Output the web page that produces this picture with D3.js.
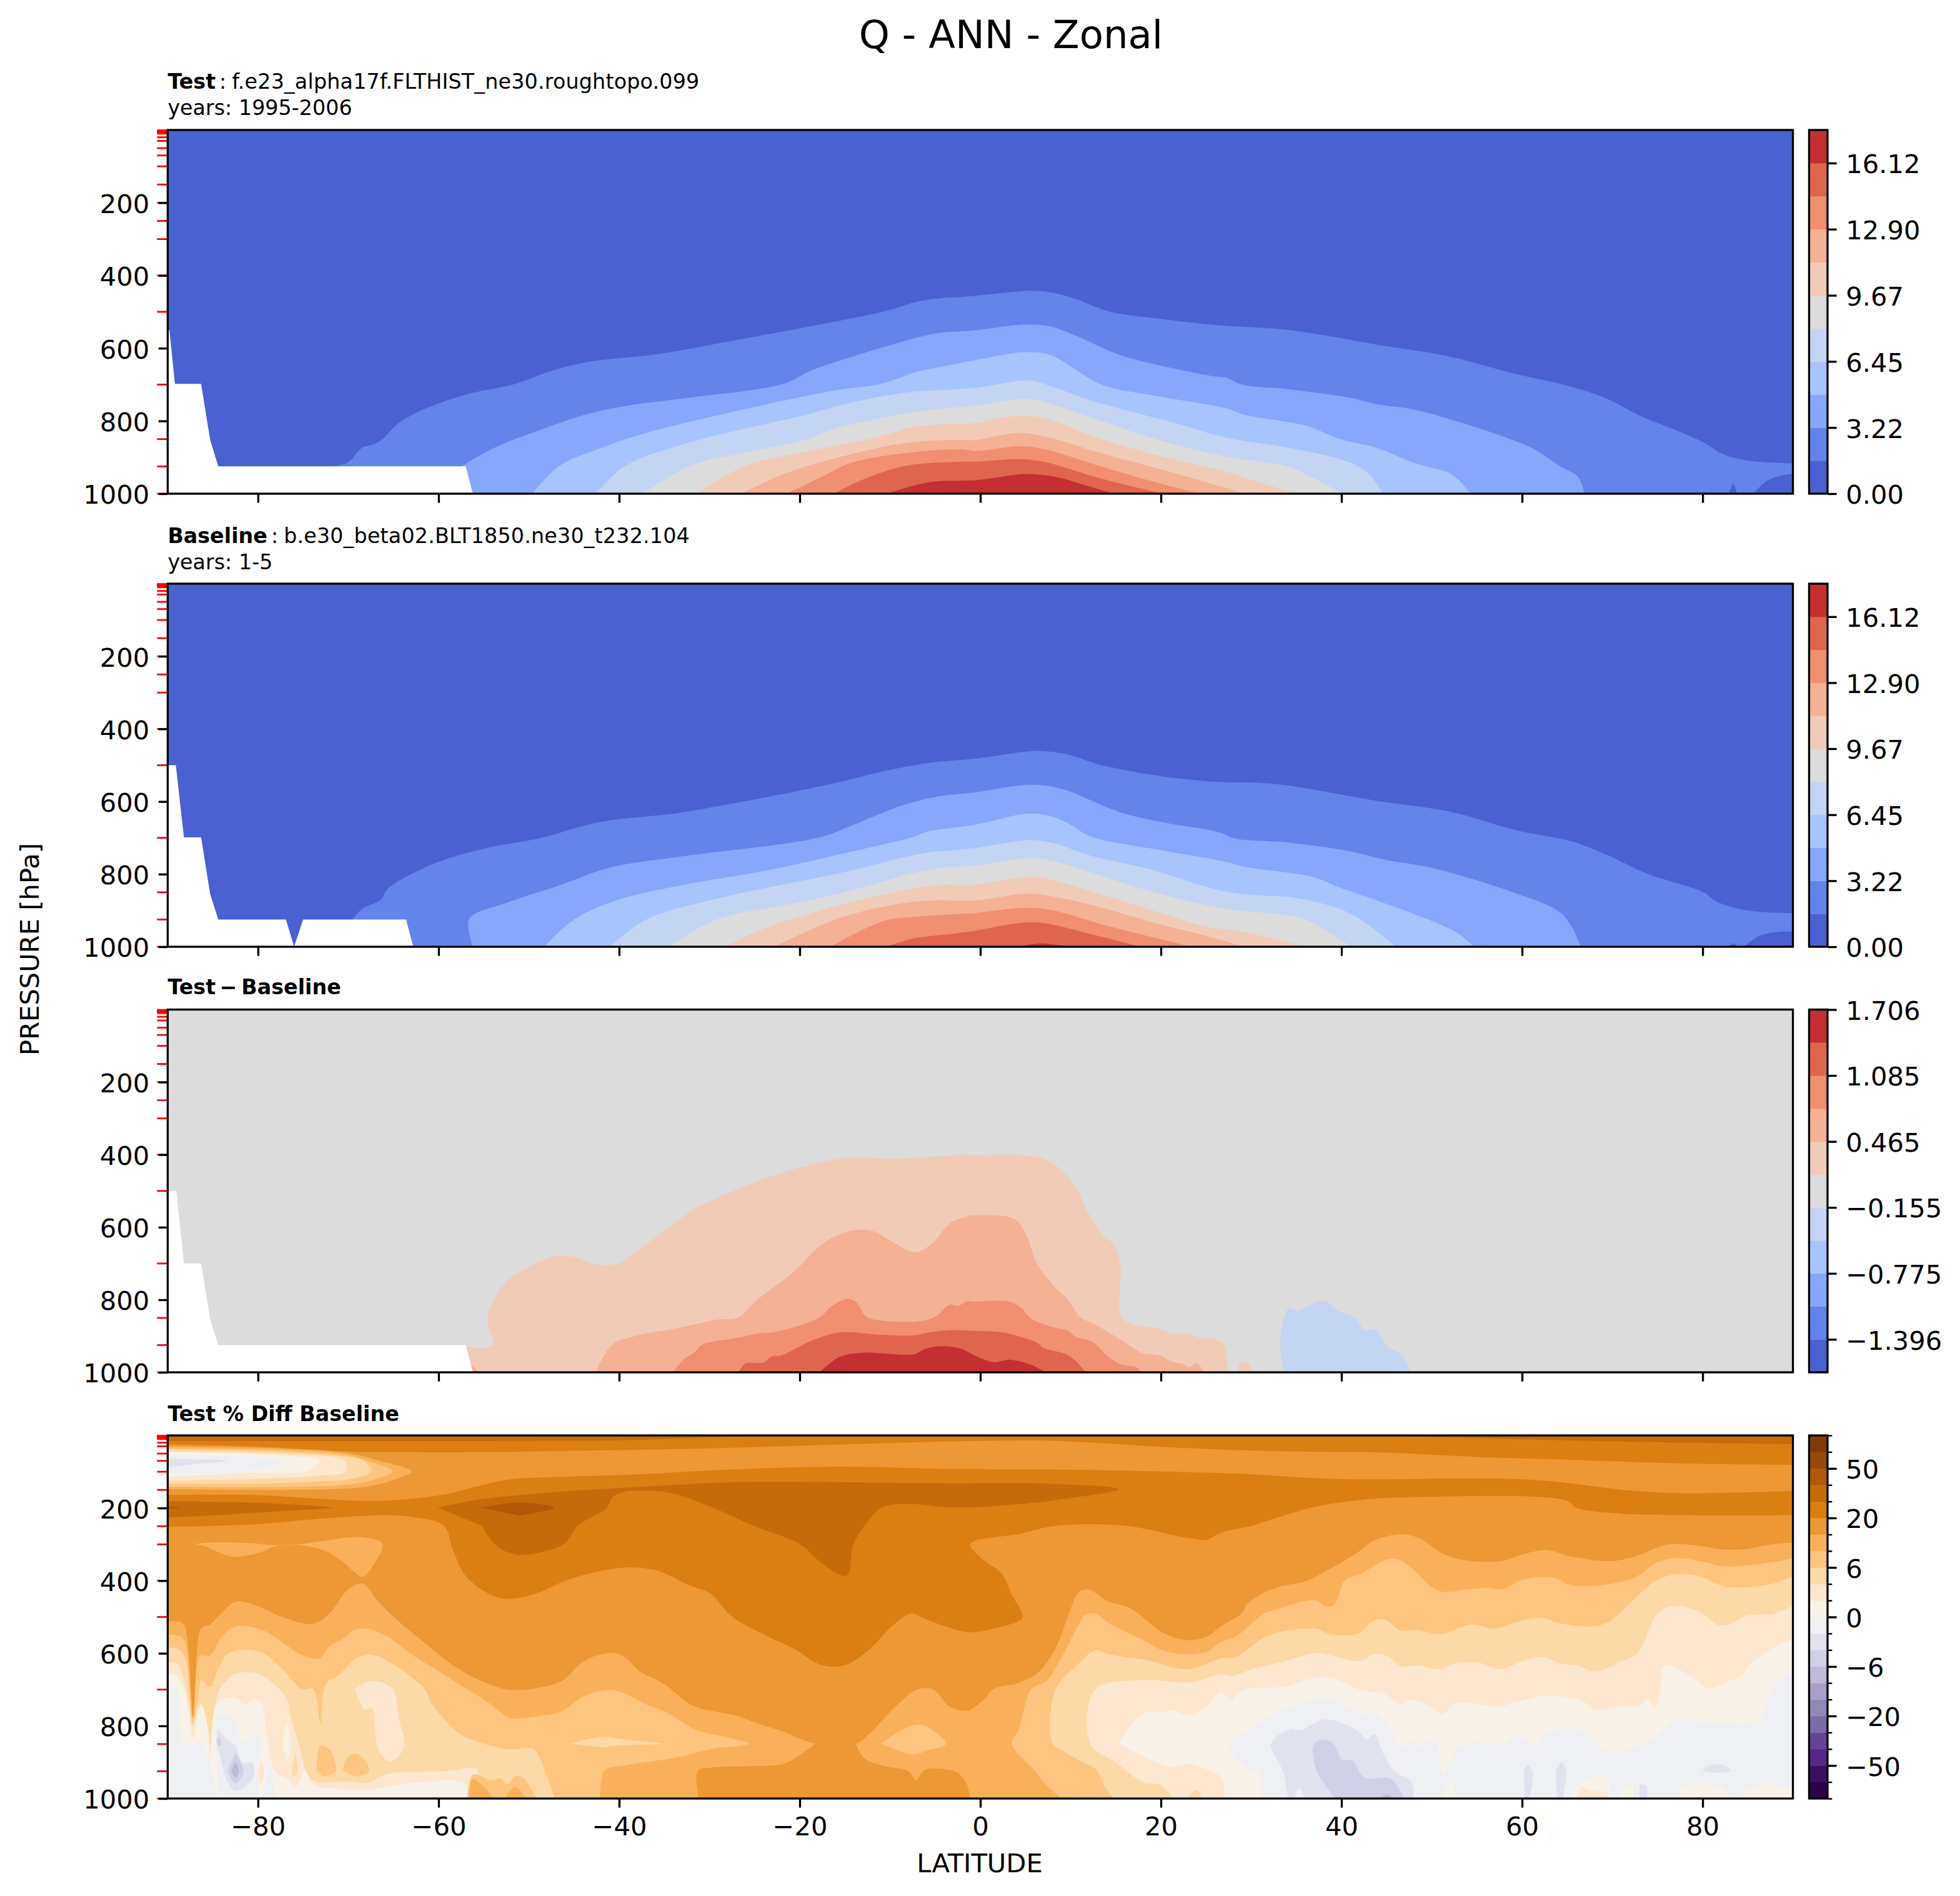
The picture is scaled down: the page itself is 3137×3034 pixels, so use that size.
<!DOCTYPE html>
<html>
<head>
<meta charset="utf-8">
<script src="https://d3js.org/d3.v7.min.js"></script>
<style>
body { margin: 0; background: #fff; }
text { font-family: "DejaVu Sans", sans-serif; fill: #000; }
</style>
</head>
<body>
<div id="chart"></div>
<script>
// Pressure levels of the data (red ticks) and axis ticks
var plevs = [1, 2, 3, 5, 7, 10, 20, 30, 50, 70, 100, 150, 200, 250, 300, 400, 500, 700, 850, 925, 1000];
var latTicks = [-80, -60, -40, -20, 0, 20, 40, 60, 80];
var presTicks = [200, 400, 600, 800, 1000];

// Colour bar levels
var qLevels = [0, 1.61, 3.22, 4.84, 6.45, 8.06, 9.67, 11.28, 12.90, 14.51, 16.12, 17.73];
var qTicks = [0, 3.22, 6.45, 9.67, 12.90, 16.12];
var diffLevels = [-1.706, -1.396, -1.086, -0.775, -0.465, -0.155, 0.155, 0.465, 0.775, 1.085, 1.396, 1.706];
var diffTicks = [-1.396, -0.775, -0.155, 0.465, 1.085, 1.706];
var pctLevels = [-70, -60, -50, -40, -30, -20, -15, -10, -6, -4, -2, 0, 2, 4, 6, 10, 15, 20, 30, 40, 50, 60, 70];
var pctTicks = [-50, -20, -6, 0, 6, 20, 50];

var coolwarm = ["#4961d1", "#6384eb", "#86a7fc", "#a6c4fe", "#c4d5f3", "#dddcdc", "#f2cbb7", "#f5b194", "#f18f71", "#e0654f", "#c43032"];
var puor = ["#2d004b", "#3d0f60", "#542788", "#654497", "#7b6ba7", "#9088b8", "#a99fca", "#bfbada", "#d0d0e6", "#e1e2ee", "#eff0f3",
  "#f9f2e9", "#fde7cf", "#fed9a8", "#fdc57f", "#f9b159", "#ec9835", "#dc7e11", "#c76a0a", "#b35806", "#974a07", "#7f3b08"];

// Test panel: contour lines as [lat, pressure], lowest level first
var testContours = [
  [[-72,925],[-70.1,915],[-68.5,874],[-67.2,864],[-66.3,852],[-64.5,807],[-62.6,779],[-60.1,753],[-56.4,724],[-51.5,698],[-47.8,665],[-43.5,638],[-35.4,615],[-28,582],[-20.6,548],[-10.7,499],[-6.4,469],[-0.6,456],[5.6,442],[7.7,446],[10.5,464],[14.3,499],[20.2,520],[26.5,537],[34.1,550],[43.9,590],[51.6,621],[59.2,670],[65.5,706],[69.6,741],[73.1,786],[78,835],[80.4,863],[82.2,891],[85,909],[90,917]],
  [[-57.5,925],[-54,876],[-49,827],[-43.5,781],[-39.1,758],[-32.9,738],[-21.8,698],[-18.7,661],[-14.4,625],[-9.5,588],[-5.1,560],[-0.6,551],[4.9,535],[7.7,540],[10.5,565],[15.4,618],[20.2,649],[25.8,677],[27.2,681],[29,700],[34.2,713],[41.1,737],[43.9,754],[48.1,769],[52.2,797],[57.8,842],[61.3,877],[64.1,923],[66.2,954],[66.9,1000]],
  [[-49.6,1000],[-46.7,925],[-42.2,876],[-37.3,835],[-27.4,775],[-20.6,738],[-15.6,714],[-11,698],[-7,665],[-3.9,649],[-0.6,633],[4.9,611],[7.7,618],[9.8,646],[13.3,699],[20.2,734],[27.2,765],[29.3,783],[36.2,814],[39.7,849],[43.9,874],[48.1,916],[52.2,947],[54.3,1000]],
  [[-42.6,1000],[-39.4,925],[-32.3,860],[-19.3,783],[-14.4,750],[-8.2,722],[-0.6,709],[2.2,698],[5.3,688],[8.4,709],[11.9,741],[22.3,811],[27.2,846],[34.9,877],[41.1,916],[43.2,951],[44.6,1000]],
  [[-37.3,1000],[-32.3,925],[-26.2,888],[-19.3,852],[-16.3,823],[-8.2,779],[-2,761],[-0.6,758],[5.3,739],[8.4,758],[13.3,800],[20.2,856],[27.2,898],[34.1,926],[36.9,958],[40.1,1000]],
  [[-31.4,1000],[-26.2,925],[-19.3,884],[-12,848],[-7,815],[-2,807],[-0.6,806],[2.9,789],[5.3,786],[7.7,797],[13.3,849],[20.2,898],[27.2,940],[34.9,1000]],
  [[-26.5,1000],[-22.5,953],[-19.3,925],[-14.4,892],[-8.2,860],[-2,852],[-0.6,853],[4.2,833],[7,842],[13.3,888],[21.6,944],[29.3,1000]],
  [[-21.5,1000],[-17.5,953],[-14.4,916],[-8.2,888],[-2,878],[-0.6,883],[4.2,870],[7,877],[14,930],[18.9,965],[24.4,1000]],
  [[-16.3,1000],[-12.6,957],[-8.2,923],[-2,912],[-0.6,912],[4.2,905],[7,912],[13.3,958],[20.2,1000]],
  [[-10.4,1000],[-5.8,969],[-2,964],[-0.6,963],[2.2,954],[4.9,946],[8.4,954],[11.9,979],[14.8,1000]]
];
var testPatches = [
  [[85.6,1000],[87.4,961],[90,945],[90,1000]],
  [[82.9,1000],[83.4,973],[83.8,1000]]
];
var testMissing = [[-90,547],[-89.8,552],[-89.2,698],[-86.3,698],[-85.3,852],[-84.4,925],[-57,925],[-56.2,1000],[-90,1000]];

// Baseline panel
var baseContours = [
  [[-69.5,925],[-68.5,896],[-66.4,870],[-65.7,842],[-63.8,810],[-60.1,767],[-55.2,731],[-48.4,699],[-44.1,668],[-41,652],[-33.6,632],[-28,608],[-17.5,557],[-10,513],[-5.8,494],[-0.6,482],[6.3,461],[9.8,471],[13.3,499],[20.2,531],[25.8,545],[32.8,552],[43.9,598],[52.2,629],[59.2,678],[65.5,710],[69.6,749],[73.8,798],[80.1,850],[81.5,875],[85,900],[90,907]],
  [[-56.2,1000],[-56.6,923],[-52.7,881],[-46.5,830],[-41,782],[-33,751],[-17.8,699],[-14.4,668],[-8.8,612],[-5.1,588],[-0.6,575],[5.6,554],[9.1,566],[15.4,629],[20.2,657],[26.5,685],[28.2,702],[34.2,713],[41.1,738],[44.6,759],[50.2,784],[57.8,840],[64.1,903],[65.5,945],[66.5,1000]],
  [[-48.3,1000],[-45,925],[-40.4,873],[-33,830],[-23.7,790],[-14.4,739],[-7.6,699],[-5.8,683],[-0.6,664],[5.3,633],[7.7,640],[9.8,661],[12.2,696],[20.2,735],[27.2,766],[29.3,780],[36.9,808],[39.7,836],[43.9,872],[49.5,924],[52.9,963],[54.7,1000]],
  [[-41,1000],[-37,925],[-28.9,866],[-15,794],[-6.4,743],[-0.6,728],[5.6,706],[8.4,717],[12.2,749],[18.8,787],[27.5,850],[35.5,868],[41.1,910],[46,1000]],
  [[-34.5,1000],[-29.2,925],[-20.6,881],[-14.4,846],[-8.2,802],[-3.9,782],[-0.6,777],[5.6,756],[8.4,766],[12.6,798],[18.8,847],[27.2,896],[35.5,921],[38.3,956],[41.1,1000]],
  [[-28.3,1000],[-24.3,953],[-16.3,890],[-9.5,850],[-5.1,830],[-0.6,829],[5.6,807],[8.4,819],[12.6,850],[19.5,903],[25.1,945],[28.6,956],[36,1000]],
  [[-22.8,1000],[-15.6,921],[-8.8,881],[-5.1,872],[-0.6,872],[4.9,854],[7,857],[11.9,882],[18.8,931],[24.4,966],[29.3,1000]],
  [[-16.6,1000],[-10.7,929],[-7,917],[-2,909],[-0.6,907],[4.9,893],[7.7,898],[14,942],[18.9,973],[23.4,1000]],
  [[-10.4,1000],[-7.6,978],[-3.4,965],[-0.6,956],[4.2,935],[7,935],[11.9,963],[17.8,1000]],
  [[4.2,1000],[6.7,991],[9.8,1000]]
];
var basePatches = [
  [[84.6,1000],[86.3,970],[88.4,959],[90,959],[90,1000]],
  [[82.9,1000],[83.4,990],[83.8,1000]]
];
var baseMissing = [[-90,500],[-89.1,500],[-88.2,699],[-86.3,699],[-85.3,854],[-84.4,925],[-76.9,925],[-76,1000],[-75,925],[-63.6,925],[-62.8,1000],[-90,1000]];

// Test - Baseline panel: [colour band, contour]
var diffLayers = [
  [6, [[-57,929],[-54,924],[-54.6,849],[-52.7,756],[-51.5,730],[-47.2,679],[-45.3,681],[-42.2,704],[-40,698],[-37.3,651],[-31.7,551],[-26.8,494],[-22.4,453],[-15,409],[-9.5,411],[-2.1,401],[-0.6,402],[3.5,401],[6.3,406],[8.4,430],[10.5,487],[11.9,557],[13.6,624],[14.7,645],[15.5,697],[15.7,849],[17.8,873],[19.5,877],[21.3,894],[23,891],[24.1,903],[26.9,919],[27.3,1000]]],
  [6, [[28.6,1000],[28.7,974],[29.6,974],[30.1,1000]]],
  [7, [[-56.4,980],[-55.4,1000],[-56.2,1000]]],
  [7, [[-42.6,1000],[-40.8,924],[-37.9,898],[-32.9,875],[-29.2,855],[-26.8,849],[-24.9,804],[-20.6,722],[-18.1,659],[-16.3,627],[-14.1,609],[-12,610],[-9.5,644],[-7.2,669],[-5.3,644],[-3.3,588],[-1.1,568],[-0.6,567],[3.2,572],[4.2,585],[5.3,634],[6.3,701],[8.4,768],[9.8,803],[11.1,849],[12.6,866],[15.4,908],[18,947],[19.9,954],[21.3,972],[22.3,975],[23.2,986],[23.9,973],[24.8,1000]]],
  [8, [[-34,1000],[-32.9,965],[-31.7,946],[-30.8,924],[-26.8,905],[-24.9,894],[-22.4,887],[-17.8,849],[-16.6,820],[-14.7,797],[-13.7,808],[-12.6,847],[-9.5,860],[-7,860],[-5.1,849],[-3.4,814],[-2.4,816],[-1.4,804],[-0.6,805],[3.2,805],[4.6,824],[5.6,852],[7.7,873],[9.8,887],[10.5,901],[12.6,919],[14,954],[15.7,979],[17.3,986],[17.8,1000]]],
  [9, [[-26.8,1000],[-26,976],[-24,973],[-23.1,956],[-22.1,954],[-18.7,913],[-15.6,890],[-11.3,896],[-7.3,898],[-5.8,890],[-3.3,884],[-0.6,886],[2.2,889],[3.9,898],[6.3,919],[7,933],[9.8,954],[11.7,1000]]],
  [10, [[-17.8,1000],[-15.6,958],[-13.2,946],[-7.3,950],[-6.1,935],[-4.2,928],[-2.1,935],[-0.6,954],[1.5,972],[3.2,965],[5.6,979],[7.2,1000]]],
  [4, [[33.6,1000],[33.2,922],[33.6,852],[34.2,823],[35.2,831],[36.3,817],[38.1,803],[39.7,831],[41.6,851],[42.6,885],[43.8,882],[45,926],[46.7,954],[47.7,1000]]]
];
var diffMissing = [[-90,500],[-89.05,500],[-88.2,700],[-86.3,700],[-85.3,853],[-84.4,925],[-57,925],[-56.2,1000],[-90,1000]];

// Test % Diff Baseline panel: [colour band, contour], painted in order over band 17
var pctLayers = [
  [18, [[-90,0],[-90,15],[-50,15],[-39,13],[-31,6],[-23,0]]],
  [18, [[44,0],[56,8],[66,14],[78,20],[90,24],[90,0]]],
  // upper edge of the 15-20 % band, closed at the ground
  [16, [[-90,25],[-80.6,30],[-70,44],[-63,46],[-55.9,46],[-39.4,40],[-27.5,34],[-15.6,25],[0.3,15],[8.3,15],[22.9,35],[33.8,44],[44.7,47],[55.6,60],[66.6,68],[77.5,77],[90,81],[90,1000],[-90,1000]]],
  // 20-30 % band around 200 hPa
  [17, [[-90,164],[-80.6,164],[-70,179],[-65.4,179],[-59.4,163],[-55.9,141],[-52.4,122],[-45.3,113],[-39.4,109],[-27.5,94],[-15.6,86],[-3.6,92],[8.3,94],[22.9,101],[28.4,105],[39.3,120],[61.1,122],[72,152],[77.5,159],[90,153],
    [90,220],[70.9,215],[66,199],[64.9,179],[47.5,170],[42,178],[37.1,196],[33.8,219],[30,249],[26.7,267],[25.1,287],[22.9,282],[16.2,249],[8.3,249],[4.3,271],[-1.1,299],[0.3,342],[2.3,379],[3.5,439],[4.7,499],[4.3,510],[1.5,532],[-1.2,542],[-3.6,528],[-6.4,502],[-7.6,490],[-9.6,521],[-12.4,592],[-14.8,631],[-16.5,637],[-18.3,625],[-20.3,592],[-23.5,554],[-27.5,499],[-29.9,435],[-32.2,413],[-35.8,372],[-39.4,364],[-45.3,394],[-49.2,435],[-52.4,450],[-54.5,435],[-57,387],[-58.4,316],[-59.4,249],[-63,224],[-66.5,220],[-73.5,230],[-80.6,245],[-90,252]]],
  [18, [[-90,182],[-84.1,183],[-77.1,189],[-71.8,199],[-77.1,208],[-84.1,219],[-90,226]]],
  [18, [[-60.1,199],[-55.9,178],[-48.8,159],[-39.4,144],[-31.4,133],[-25.1,128],[-3.6,132],[6.7,132],[15.3,148],[8.3,178],[4.3,189],[0.3,197],[-3.6,198],[-7.6,189],[-10.8,197],[-12,223],[-14,297],[-14.7,385],[-15.6,383],[-17.7,349],[-19.9,301],[-25.5,245],[-29.5,200],[-34.2,159],[-37.8,152],[-39.4,155],[-40.7,170],[-41.4,200],[-44.6,249],[-46,297],[-47.8,316],[-51,329],[-53.4,308],[-55.2,249]]],
  [19, [[-55.3,199],[-51,185],[-47.1,199],[-51,221]]],
  [19, [[-90,195],[-88.7,199],[-90,203]]],
  // pale tongue near 70 hPa over the south pole
  [15, [[-90,30],[-77.1,36],[-70,49],[-66.5,70],[-63,99],[-65.4,126],[-68.3,142],[-77.1,150],[-90,148]]],
  [14, [[-90,35],[-77.1,41],[-70,55],[-67.2,75],[-65.1,99],[-67.2,122],[-70,135],[-77.1,142],[-90,141]]],
  [13, [[-90,38],[-77.1,46],[-70.7,57],[-68.3,70],[-67.5,99],[-69.3,118],[-73.5,127],[-80.6,133],[-90,133]]],
  [12, [[-90,44],[-77.1,51],[-71.8,59],[-70.4,70],[-70.3,99],[-73.5,111],[-80.6,120],[-90,124]]],
  [11, [[-90,46],[-77.1,56],[-73.2,70],[-74.4,97],[-80.6,103],[-90,114]]],
  [10, [[-90,56],[-80.6,60],[-77.2,70],[-80.6,97],[-90,103]]],
  [9, [[-90,64],[-85.9,66],[-83.4,70],[-86.3,77],[-90,88]]],
  [15, [[-87,299],[-85.2,295],[-80.6,297],[-78.1,303],[-76,301],[-72.8,291],[-70,281],[-67.9,282],[-66.2,299],[-67.4,364],[-68.4,390],[-69.5,372],[-70.7,346],[-72.8,316],[-75.7,301],[-78.1,306],[-79.9,323],[-82.7,334],[-84.5,320],[-85.9,305]]],
  // 10-15 % and below
  [15, [[-90,513],[-88.9,513],[-88.2,521],[-87.1,782],[-86.3,532],[-85.3,521],[-84.1,491],[-82.4,457],[-79.9,472],[-77.1,502],[-73.9,519],[-72.1,491],[-70,424],[-68.4,408],[-66.8,454],[-65,499],[-62.2,558],[-58,640],[-55.2,677],[-52.4,700],[-49.2,696],[-46.4,677],[-43.9,622],[-41.1,599],[-39.4,610],[-37.8,648],[-35,685],[-31.8,745],[-29.5,760],[-27.1,771],[-24.7,793],[-21.9,815],[-18.3,849],[-13.8,849],[-12,815],[-9.6,752],[-7,700],[-5.2,700],[-3.4,747],[-1.5,758],[0.3,730],[1.5,698],[4.3,681],[6.3,655],[8.3,588],[9.9,484],[10.9,431],[11.9,424],[14.2,457],[16.6,476],[20.2,543],[22.9,564],[25.1,554],[26.7,525],[28.9,491],[29.7,461],[32.7,420],[36,402],[38.2,375],[41.5,327],[43.6,290],[46.4,273],[48.5,282],[51.3,327],[53.5,343],[57.8,346],[60,328],[62.7,316],[65.5,334],[69.8,346],[72.6,333],[75.8,302],[78.6,301],[82.4,314],[85.1,312],[87.3,301],[90,295],[90,1000],[-90,1000]]],
  [16, [[-18.3,849],[-20.3,886],[-21.9,905],[-25.9,911],[-29.9,915],[-31.3,924],[-31.2,1000],[-1.1,1000],[-1.5,961],[-2.4,931],[-4.4,918],[-6.2,922],[-7.1,950],[-8,924],[-10.4,912],[-12.8,890],[-13.8,849]]],
  // 6-10 %
  [14, [[-90,549],[-88.7,552],[-88.1,566],[-87.2,778],[-86.4,607],[-85.4,607],[-84.1,558],[-83.3,536],[-82.2,525],[-79.5,536],[-77.1,573],[-75.3,603],[-73.2,614],[-72.1,581],[-70.7,562],[-69.3,536],[-67.9,532],[-65.4,558],[-63,603],[-60.1,648],[-57,696],[-54.8,730],[-52,778],[-49.2,774],[-46.4,760],[-43.9,718],[-41.1,701],[-39.4,711],[-37,741],[-35,760],[-31.4,812],[-28.3,830],[-25.7,849],[-29.9,864],[-33.4,886],[-39.4,909],[-41.6,922],[-42.1,1000],[-90,1000]]],
  [14, [[9,1000],[7.1,957],[5.9,920],[3.5,849],[4.3,808],[5.6,700],[7.3,677],[8.7,625],[10.9,521],[11.6,495],[12.7,490],[14.2,517],[18.2,566],[20.2,592],[22.9,603],[25.1,595],[26.7,569],[28.3,554],[31.4,491],[32.7,480],[37.1,454],[38.2,470],[39.1,469],[40.4,398],[42,383],[45,342],[46.4,343],[47.7,364],[49.9,416],[51.3,431],[54,424],[56.2,420],[57.8,424],[60,398],[62.2,390],[63.8,394],[65.5,413],[69.8,409],[72.6,390],[75,349],[77.5,338],[80.2,349],[82.4,361],[85.1,357],[87.8,349],[90,338],[90,1000]]],
  [14, [[-11,849],[-8.8,813],[-7,797],[-6,801],[-3.8,849],[-6,868],[-7.2,879],[-8.8,871]]],
  [13, [[-45.5,849],[-41.8,830],[-39.4,838],[-35.2,849],[-39.4,853],[-41.8,859]]],
  // 4-6 %
  [13, [[-90,584],[-88.9,588],[-88.1,610],[-87.2,789],[-86.5,700],[-86.3,674],[-85.3,692],[-84.3,636],[-83.4,603],[-82.4,592],[-79.5,599],[-77.1,648],[-75.1,700],[-73.9,698],[-73.1,793],[-72.7,700],[-72.1,674],[-71.1,661],[-69.3,618],[-67.5,604],[-64.7,636],[-61.5,700],[-60.8,737],[-59.1,789],[-57.3,827],[-52.4,864],[-49.5,864],[-48.7,894],[-47.1,1000],[-90,1000]]],
  [14, [[-73.5,924],[-73.1,856],[-72.1,864],[-71.4,925],[-72.8,940]]],
  [14, [[-70.6,924],[-70.2,890],[-69.3,877],[-68.3,890],[-67.7,925],[-69.1,940]]],
  [13, [[14.8,1000],[13.8,968],[12.8,920],[10.9,894],[9.1,868],[8,849],[8.3,701],[10.7,633],[12.7,592],[14.2,603],[18.2,618],[22.9,644],[26.7,614],[28.3,610],[31.9,551],[37.1,532],[38.7,547],[41.7,547],[43.6,510],[44.7,506],[46.6,537],[48.5,536],[51,547],[54.3,521],[57,532],[60,510],[62.2,502],[64.4,519],[68.2,525],[69.8,510],[72,461],[74.7,402],[76.9,383],[79.6,387],[82.4,416],[87.3,411],[90,388],[90,1000]]],
  [12, [[-69.3,700],[-67.5,676],[-65.1,698],[-64.4,782],[-63.8,845],[-64.4,883],[-65.5,897],[-66.7,864],[-67.4,752],[-68.3,756]]],
  // 2-4 %
  [12, [[-90,623],[-88.9,629],[-88,692],[-87.2,801],[-86.4,741],[-85.3,853],[-84.4,707],[-83.4,674],[-82.5,657],[-79.9,657],[-76.9,722],[-76.4,774],[-75.5,849],[-74.4,938],[-73.5,955],[-70.4,953],[-67.9,957],[-65.8,933],[-59.4,925],[-55.7,920],[-56.9,1000],[-90,1000]]],
  [14, [[-56.8,1000],[-56.2,935],[-54.1,950],[-53.1,944],[-52.4,961],[-51.5,938],[-50.5,946],[-49.2,1000]]],
  [15, [[-56.6,1000],[-56.2,946],[-55,968],[-53.8,1000]]],
  [15, [[-52.7,1000],[-51.5,968],[-50.3,1000]]],
  [12, [[21.4,1000],[21,987],[19.8,961],[18.2,957],[15,901],[12.2,849],[12.7,700],[18.2,674],[22.9,681],[24.5,674],[26.7,657],[27.8,663],[30,644],[33.8,622],[37.1,599],[42,622],[43.6,603],[45,607],[46.6,636],[48.5,633],[50.7,644],[52.4,629],[55.1,625],[57.6,644],[60,622],[62.2,610],[64.4,629],[66,633],[68.2,651],[70.4,629],[72.8,599],[75,491],[76.9,470],[79.7,487],[81.6,521],[82.9,521],[84.8,497],[87.8,491],[90,469],[90,1000]]],
  [13, [[22.9,1000],[24,976],[24.5,1000]]],
  // 0-2 %
  [11, [[-90,661],[-88.9,663],[-87.8,737],[-87.2,833],[-86.3,741],[-85.5,812],[-85.3,886],[-84.5,737],[-82.5,722],[-81.5,741],[-80.4,728],[-79.7,733],[-79,827],[-78.1,927],[-76.7,946],[-75.8,968],[-74.9,924],[-73.9,961],[-71.8,972],[-67.5,976],[-65.4,965],[-57.1,959],[-56.9,1000],[-90,1000]]],
  [11, [[-77.3,849],[-76.8,793],[-76.4,849],[-76.8,901]]],
  [13, [[-75.9,871],[-75.6,927],[-76,940],[-76.3,927]]],
  [12, [[-79.7,894],[-79.3,927],[-79.7,957],[-80,927]]],
  [11, [[15.3,849],[16.6,801],[18.2,763],[20.2,763],[21.4,756],[22.9,771],[25.1,745],[26.7,707],[27.8,730],[28.6,707],[30,696],[33.8,692],[36,674],[38.7,666],[42,700],[44.7,711],[46.6,741],[47.5,730],[49.1,737],[51.3,767],[52.4,741],[54.5,737],[57,748],[60,730],[62.7,717],[66.6,730],[68.2,756],[70.9,745],[72.8,748],[73.9,726],[74.7,748],[75.3,707],[75.8,633],[79.1,670],[80.7,696],[82.9,677],[84.3,663],[85.1,633],[88.4,577],[90,562],[90,1000],[27,1000],[26.7,942],[25.1,920],[22.9,905],[21,912],[18.2,886]]],
  // negative values near the ground
  [10, [[-90,698],[-89,698],[-88.2,849],[-86.3,849],[-84.5,1000],[-90,1000]]],
  [10, [[-84.5,767],[-82.7,778],[-81.7,843],[-80.6,823],[-79.6,842],[-80.1,901],[-79.7,1000],[-84.3,1000],[-84.7,856]]],
  [9, [[-84.5,808],[-83.3,842],[-82.5,853],[-81.7,901],[-80.6,901],[-80.6,946],[-82.5,979],[-83.4,953],[-84.1,894],[-84.6,849]]],
  [8, [[-82.5,874],[-81.6,924],[-82.5,959],[-83.4,924]]],
  [7, [[-82.5,900],[-82.1,924],[-82.5,942],[-83,924]]],
  [8, [[-84.6,838],[-84.2,834],[-84.1,853],[-84.4,855]]],
  [10, [[-79.6,1000],[-78.7,916],[-78,1000]]],
  [10, [[31.1,1000],[30.8,924],[29.7,920],[27.5,849],[30,808],[32.7,763],[35.4,737],[38.2,722],[42.3,767],[43.6,763],[45.5,812],[46.6,860],[47.7,838],[48.5,860],[49.6,838],[50.5,849],[51.3,931],[52.9,860],[55.1,845],[57.8,853],[59.5,827],[61.6,856],[62.7,819],[66.6,812],[69.3,868],[73.1,853],[75.8,808],[76.9,783],[79.7,789],[81.8,789],[84.6,795],[86.5,778],[87.3,730],[87.8,692],[90,651],[90,1000]]],
  [9, [[34.1,1000],[33.5,924],[32.2,849],[34.4,808],[35.4,812],[38.2,782],[41.7,812],[42.8,838],[43.6,823],[44.7,879],[45.8,924],[47.7,953],[48,1000]]],
  [10, [[34.8,1000],[35.3,972],[36,1000]]],
  [8, [[39.3,1000],[37.2,920],[37,849],[38.2,838],[39.1,849],[40.1,894],[41.2,894],[42.5,942],[45.5,946],[46.9,1000]]],
  [7, [[44.4,1000],[45,988],[45.8,1000]]],
  [9, [[60.2,924],[60.6,909],[61.2,927],[60.8,1000],[60.3,1000]]],
  [9, [[63.7,924],[64.4,901],[64.9,927],[64.5,1000],[63.9,1000]]],
  [9, [[79.9,924],[80.7,909],[82.4,909],[83.1,924],[81.6,930]]],
  [9, [[73,961],[73.8,965],[73.8,1000],[73,1000]]],
  [11, [[65.5,1000],[66.3,961],[69.3,938],[69.7,1000]]],
  [11, [[70.9,1000],[71.5,968],[72.3,965],[72.3,1000]]],
  [11, [[77.5,1000],[77.7,968],[79.7,961],[82.4,972],[82.7,1000]]],
  [11, [[84,1000],[85.1,972],[87.3,961],[90,972],[90,1000]]],
  [11, [[51.3,1000],[52.1,946],[52.6,1000]]],
  [12, [[66,1000],[66.6,968],[67.4,979],[69.3,983],[69.6,1000]]]
];

var W = 3137, H = 3034;
var plotLeft = 268.4, plotRight = 2869.6;
var cbLeft = 2895.5, cbRight = 2925;
var tickFont = 41.67, smallFont = 33.33;

var svg = d3.select("#chart").append("svg")
  .attr("width", W).attr("height", H)
  .attr("viewBox", "0 0 " + W + " " + H)
  .style("display", "block")
  .style("background", "#fff");

var x = d3.scaleLinear().domain([-90, 90]).range([plotLeft, plotRight]);

// contour closed along the ground, if it does not close by itself
function atGround(pts) {
  return pts.concat([[pts[pts.length - 1][0], 1000], [pts[0][0], 1000]]);
}

// edges of the plot stay straight, only the contour parts are smoothed
function onFrame(a, b) {
  return (a[1] >= 1000 && b[1] >= 1000) || (a[1] <= 0 && b[1] <= 0) || (Math.abs(a[0]) == 90 && Math.abs(b[0]) == 90);
}

function contourPath(pts, line) {
  var runs = [[pts[0]]];
  for (var i = 1; i < pts.length; i++) {
    if (onFrame(pts[i - 1], pts[i])) runs.push([pts[i]]);
    else runs[runs.length - 1].push(pts[i]);
  }
  return runs.map((r, i) => {
    var s = r.length > 1 ? line(r) : "M" + line.x()(r[0]) + "," + line.y()(r[0]);
    return i ? "L" + s.slice(1) : s;
  }).join("") + "Z";
}

function styleAxis(g, size) {
  g.select(".domain").remove();
  g.selectAll(".tick line").attr("stroke", "#000").attr("stroke-width", 3.3);
  g.selectAll(".tick text").style("font-family", '"DejaVu Sans", sans-serif').style("font-size", size + "px").attr("fill", "#000");
}

function drawPanel(idx, top, bottom, base, colors, layers, missing, showX) {
  var y = d3.scaleLinear().domain([0, 1000]).range([top, bottom]);
  var line = d3.line().x(d => x(d[0])).y(d => y(d[1]));
  var smooth = d3.line().x(d => x(d[0])).y(d => y(d[1])).curve(d3.curveCatmullRom.alpha(0.5));
  var g = svg.append("g");
  var clipId = "clip" + idx;

  g.append("clipPath").attr("id", clipId).append("rect")
    .attr("x", plotLeft).attr("y", top)
    .attr("width", plotRight - plotLeft).attr("height", bottom - top);

  var field = g.append("g").attr("clip-path", "url(#" + clipId + ")");
  field.append("rect")
    .attr("x", plotLeft).attr("y", top)
    .attr("width", plotRight - plotLeft).attr("height", bottom - top)
    .attr("fill", colors[base]);

  field.selectAll("path.band").data(layers).enter().append("path")
    .attr("class", "band")
    .attr("d", d => contourPath(d[1], smooth))
    .attr("fill", d => colors[d[0]]);

  if (missing) {
    field.append("path").attr("d", line(missing) + "Z").attr("fill", "#fff");
  }

  // red ticks: data levels
  g.selectAll("line.plev").data(plevs).enter().append("line")
    .attr("class", "plev")
    .attr("x1", plotLeft - 17).attr("x2", plotLeft)
    .attr("y1", d => y(d)).attr("y2", d => y(d))
    .attr("stroke", "#ff0000").attr("stroke-width", 2.8);

  var yAxis = g.append("g").attr("transform", "translate(" + plotLeft + ",0)")
    .call(d3.axisLeft(y).tickValues(presTicks).tickSize(14.6).tickPadding(14.6).tickFormat(d3.format("d")));
  styleAxis(yAxis, tickFont);
  yAxis.selectAll(".tick text").attr("dy", "0.38em");

  var xAxis = g.append("g").attr("transform", "translate(0," + bottom + ")")
    .call(d3.axisBottom(x).tickValues(latTicks).tickSize(14.6).tickPadding(14.6)
      .tickFormat(showX ? d3.format("d") : ""));
  styleAxis(xAxis, tickFont);

  g.append("rect")
    .attr("x", plotLeft).attr("y", top)
    .attr("width", plotRight - plotLeft).attr("height", bottom - top)
    .attr("fill", "none").attr("stroke", "#000").attr("stroke-width", 3.3);

  return g;
}

// colour bar with equal sized bands, one for each pair of levels
function drawBar(g, top, bottom, levels, colors, ticks, fmt, minor) {
  var pos = d3.scalePoint().domain(levels).range([bottom, top]);
  g.selectAll("rect.bar").data(colors).enter().append("rect")
    .attr("class", "bar")
    .attr("x", cbLeft).attr("width", cbRight - cbLeft)
    .attr("y", (d, i) => pos(levels[i + 1]))
    .attr("height", (d, i) => pos(levels[i]) - pos(levels[i + 1]) + 0.5)
    .attr("fill", d => d);

  if (minor) {
    var m = g.append("g").attr("transform", "translate(" + cbRight + ",0)")
      .call(d3.axisRight(pos).tickValues(levels).tickSize(7.3).tickFormat(""));
    styleAxis(m, tickFont);
    m.selectAll(".tick line").attr("stroke-width", 2.4);
  }
  var a = g.append("g").attr("transform", "translate(" + cbRight + ",0)")
    .call(d3.axisRight(pos).tickValues(ticks).tickSize(14.6).tickPadding(14.6).tickFormat(fmt));
  styleAxis(a, tickFont);
  a.selectAll(".tick text").attr("dy", "0.38em");

  g.append("rect")
    .attr("x", cbLeft).attr("y", top)
    .attr("width", cbRight - cbLeft).attr("height", bottom - top)
    .attr("fill", "none").attr("stroke", "#000").attr("stroke-width", 3.3);
}

function title2(label, rest, y1, years, y2) {
  var t = svg.append("text").attr("x", plotLeft).attr("y", y1).style("font-size", smallFont + "px");
  t.append("tspan").attr("font-weight", "bold").text(label);
  if (rest) t.append("tspan").attr("dx", 6).text(":");
  if (rest) t.append("tspan").attr("dx", 9).style("letter-spacing", "0.18px").text(rest);
  if (years) svg.append("text").attr("x", plotLeft).attr("y", y2).style("font-size", smallFont + "px").text(years);
}

var q2 = d3.format(".2f"), q3 = d3.format(".3f");

var testLayers = testContours.map((c, i) => [i + 1, atGround(c)]).concat(testPatches.map(c => [0, c]));
var baseLayers = baseContours.map((c, i) => [i + 1, atGround(c)]).concat(basePatches.map(c => [0, c]));
var diffDrawn = diffLayers.map(l => [l[0], atGround(l[1])]);

var p1 = drawPanel(1, 208, 790, 0, coolwarm, testLayers, testMissing, false);
drawBar(p1, 208, 790, qLevels, coolwarm, qTicks, q2, false);
var p2 = drawPanel(2, 934, 1515, 0, coolwarm, baseLayers, baseMissing, false);
drawBar(p2, 934, 1515, qLevels, coolwarm, qTicks, q2, false);
var p3 = drawPanel(3, 1615.5, 2196, 5, coolwarm, diffDrawn, diffMissing, false);
drawBar(p3, 1615.5, 2196, diffLevels, coolwarm, diffTicks, q3, false);
var p4 = drawPanel(4, 2297, 2878, 17, puor, pctLayers, null, true);
drawBar(p4, 2297, 2878, pctLevels, puor, pctTicks, d3.format("d"), true);

title2("Test", "f.e23_alpha17f.FLTHIST_ne30.roughtopo.099", 142, "years: 1995-2006", 184);
title2("Baseline", "b.e30_beta02.BLT1850.ne30_t232.104", 869, "years: 1-5", 911);
title2("Test\u2009\u2212\u2009Baseline", null, 1591);
title2("Test % Diff Baseline", null, 2274);

svg.append("text").attr("x", 1618).attr("y", 77).attr("text-anchor", "middle")
  .style("font-size", "62.5px").text("Q - ANN - Zonal");
svg.append("text").attr("x", 1568).attr("y", 2996).attr("text-anchor", "middle")
  .style("font-size", tickFont + "px").text("LATITUDE");
svg.append("text").attr("transform", "translate(62,1519) rotate(-90)").attr("text-anchor", "middle")
  .style("font-size", tickFont + "px").text("PRESSURE [hPa]");
</script>
</body>
</html>
